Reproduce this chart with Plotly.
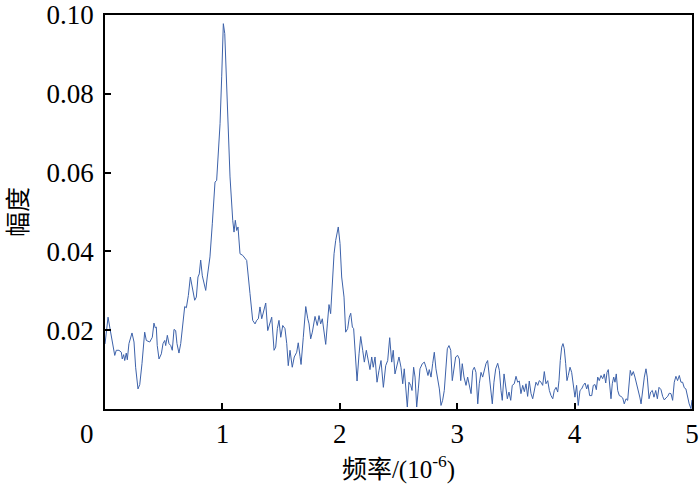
import plotly.graph_objects as go

# Frequency (10^-6) and amplitude
freq = [0.000, 0.026, 0.045, 0.068, 0.083, 0.096, 0.119, 0.139, 0.147, 0.159, 0.168, 0.181, 0.190, 0.204,
        0.230, 0.247, 0.261, 0.281, 0.296, 0.315, 0.338, 0.352, 0.381, 0.403, 0.417, 0.428, 0.437, 0.445,
        0.460, 0.480, 0.494, 0.509, 0.517, 0.531, 0.545, 0.560, 0.573, 0.588, 0.602, 0.613, 0.630, 0.645,
        0.664, 0.679, 0.693, 0.710, 0.727, 0.744, 0.764, 0.778, 0.792, 0.803, 0.815, 0.829, 0.858, 0.871,
        0.894, 0.914, 0.937, 0.951, 0.965, 0.980, 0.994, 1.008, 1.020, 1.028, 1.042, 1.065, 1.088, 1.099,
        1.110, 1.122, 1.133, 1.150, 1.173, 1.207, 1.235, 1.258, 1.278, 1.292, 1.306, 1.320, 1.335, 1.348,
        1.369, 1.386, 1.405, 1.420, 1.440, 1.454, 1.468, 1.482, 1.497, 1.514, 1.533, 1.548, 1.561, 1.576,
        1.595, 1.612, 1.633, 1.646, 1.661, 1.670, 1.689, 1.710, 1.727, 1.738, 1.752, 1.766, 1.789, 1.808,
        1.823, 1.837, 1.851, 1.865, 1.880, 1.894, 1.908, 1.922, 1.936, 1.951, 1.965, 1.987, 2.002, 2.016,
        2.036, 2.050, 2.067, 2.081, 2.093, 2.107, 2.118, 2.135, 2.147, 2.164, 2.178, 2.195, 2.209, 2.226,
        2.243, 2.257, 2.272, 2.285, 2.300, 2.317, 2.334, 2.351, 2.371, 2.391, 2.408, 2.425, 2.442, 2.455,
        2.470, 2.485, 2.504, 2.521, 2.536, 2.549, 2.564, 2.575, 2.589, 2.604, 2.615, 2.629, 2.641, 2.655,
        2.669, 2.683, 2.703, 2.720, 2.734, 2.751, 2.762, 2.777, 2.791, 2.805, 2.819, 2.834, 2.848, 2.862,
        2.876, 2.890, 2.905, 2.916, 2.930, 2.945, 2.958, 2.973, 2.987, 3.004, 3.018, 3.030, 3.043, 3.058,
        3.075, 3.089, 3.103, 3.118, 3.132, 3.146, 3.160, 3.175, 3.188, 3.203, 3.217, 3.231, 3.245, 3.259,
        3.273, 3.288, 3.299, 3.313, 3.328, 3.345, 3.359, 3.373, 3.384, 3.399, 3.413, 3.427, 3.441, 3.456,
        3.469, 3.486, 3.501, 3.515, 3.529, 3.543, 3.558, 3.572, 3.586, 3.600, 3.614, 3.629, 3.643, 3.657,
        3.671, 3.686, 3.699, 3.714, 3.728, 3.742, 3.756, 3.771, 3.785, 3.799, 3.814, 3.827, 3.842, 3.856,
        3.867, 3.878, 3.890, 3.901, 3.912, 3.924, 3.935, 3.946, 3.961, 3.975, 3.989, 4.003, 4.017, 4.031,
        4.046, 4.060, 4.074, 4.089, 4.103, 4.114, 4.128, 4.146, 4.159, 4.174, 4.185, 4.197, 4.210, 4.225,
        4.239, 4.253, 4.265, 4.276, 4.287, 4.299, 4.310, 4.321, 4.333, 4.344, 4.355, 4.367, 4.381, 4.395,
        4.410, 4.423, 4.438, 4.452, 4.463, 4.474, 4.486, 4.500, 4.514, 4.529, 4.543, 4.557, 4.566, 4.580,
        4.594, 4.608, 4.619, 4.634, 4.648, 4.662, 4.676, 4.691, 4.705, 4.719, 4.736, 4.750, 4.764, 4.778,
        4.793, 4.806, 4.821, 4.835, 4.849, 4.863, 4.877, 4.892, 4.906, 4.920, 4.934, 4.948, 4.962, 4.976,
        4.991, 5.000]

amplitude = [0.0165, 0.0233, 0.0200, 0.0154, 0.0136, 0.0149, 0.0149, 0.0144, 0.0127, 0.0138, 0.0123, 0.0142, 0.0125, 0.0166,
             0.0193, 0.0170, 0.0106, 0.0051, 0.0062, 0.0115, 0.0195, 0.0174, 0.0170, 0.0182, 0.0218, 0.0206, 0.0208, 0.0161,
             0.0127, 0.0140, 0.0166, 0.0174, 0.0161, 0.0187, 0.0166, 0.0161, 0.0149, 0.0202, 0.0199, 0.0166, 0.0142, 0.0166,
             0.0229, 0.0260, 0.0257, 0.0288, 0.0335, 0.0305, 0.0276, 0.0284, 0.0335, 0.0343, 0.0378, 0.0338, 0.0301, 0.0335,
             0.0386, 0.0470, 0.0576, 0.0580, 0.0657, 0.0724, 0.0843, 0.0978, 0.0953, 0.0894, 0.0758, 0.0589, 0.0479, 0.0449,
             0.0479, 0.0453, 0.0462, 0.0394, 0.0390, 0.0377, 0.0293, 0.0225, 0.0216, 0.0225, 0.0229, 0.0259, 0.0229, 0.0246,
             0.0269, 0.0199, 0.0216, 0.0233, 0.0149, 0.0157, 0.0204, 0.0225, 0.0182, 0.0212, 0.0204, 0.0166, 0.0110, 0.0149,
             0.0106, 0.0132, 0.0144, 0.0168, 0.0134, 0.0113, 0.0182, 0.0260, 0.0229, 0.0216, 0.0178, 0.0195, 0.0235, 0.0212,
             0.0237, 0.0216, 0.0229, 0.0191, 0.0164, 0.0216, 0.0265, 0.0242, 0.0318, 0.0394, 0.0428, 0.0462, 0.0420, 0.0335,
             0.0284, 0.0195, 0.0204, 0.0233, 0.0243, 0.0208, 0.0204, 0.0115, 0.0071, 0.0140, 0.0184, 0.0149, 0.0119, 0.0149,
             0.0123, 0.0100, 0.0132, 0.0106, 0.0132, 0.0068, 0.0098, 0.0123, 0.0055, 0.0110, 0.0123, 0.0181, 0.0119, 0.0149,
             0.0089, 0.0110, 0.0132, 0.0106, 0.0064, 0.0102, 0.0047, 0.0005, 0.0068, 0.0060, 0.0047, 0.0106, 0.0081, 0.0005,
             0.0051, 0.0102, 0.0115, 0.0119, 0.0106, 0.0085, 0.0100, 0.0081, 0.0115, 0.0144, 0.0102, 0.0072, 0.0051, 0.0009,
             0.0022, 0.0047, 0.0102, 0.0153, 0.0161, 0.0149, 0.0072, 0.0106, 0.0132, 0.0136, 0.0127, 0.0072, 0.0115, 0.0081,
             0.0060, 0.0081, 0.0055, 0.0039, 0.0098, 0.0106, 0.0093, 0.0013, 0.0064, 0.0093, 0.0081, 0.0102, 0.0115, 0.0123,
             0.0085, 0.0055, 0.0013, 0.0068, 0.0102, 0.0116, 0.0098, 0.0047, 0.0022, 0.0089, 0.0055, 0.0026, 0.0043, 0.0022,
             0.0060, 0.0064, 0.0083, 0.0068, 0.0071, 0.0039, 0.0060, 0.0044, 0.0064, 0.0032, 0.0071, 0.0039, 0.0026, 0.0047,
             0.0068, 0.0060, 0.0072, 0.0068, 0.0060, 0.0095, 0.0064, 0.0072, 0.0047, 0.0034, 0.0026, 0.0047, 0.0055, 0.0043,
             0.0072, 0.0123, 0.0157, 0.0166, 0.0153, 0.0115, 0.0072, 0.0085, 0.0106, 0.0093, 0.0055, 0.0030, 0.0060, 0.0009,
             0.0047, 0.0051, 0.0060, 0.0066, 0.0051, 0.0062, 0.0034, 0.0034, 0.0060, 0.0062, 0.0049, 0.0081, 0.0072, 0.0085,
             0.0077, 0.0089, 0.0066, 0.0093, 0.0100, 0.0064, 0.0026, 0.0064, 0.0081, 0.0068, 0.0089, 0.0047, 0.0034, 0.0032,
             0.0028, 0.0013, 0.0026, 0.0022, 0.0060, 0.0098, 0.0085, 0.0095, 0.0081, 0.0064, 0.0047, 0.0028, 0.0013, 0.0051,
             0.0081, 0.0102, 0.0081, 0.0026, 0.0043, 0.0047, 0.0030, 0.0047, 0.0026, 0.0055, 0.0049, 0.0032, 0.0023, 0.0028,
             0.0032, 0.0040, 0.0039, 0.0022, 0.0068, 0.0083, 0.0072, 0.0085, 0.0068, 0.0068, 0.0054, 0.0051, 0.0030, 0.0013,
             0.0001, 0.0023]

x_ticks = [1, 2, 3, 4, 5]
y_ticks = [0.02, 0.04, 0.06, 0.08, 0.10]
y_ticktext = ["0.02", "0.04", "0.06", "0.08", "0.10"]
origin_label = "0"
x_title = "频率/(10<sup>-6</sup>)"
y_title = "幅度"

FONT = "Liberation Serif, Times New Roman, Noto Sans CJK SC, serif"

fig = go.Figure()
fig.add_trace(go.Scatter(x=freq, y=amplitude, mode="lines",
                         line=dict(color="#3d62aa", width=1), showlegend=False, hoverinfo="skip"))

fig.update_layout(
    width=700, height=498,
    margin=dict(l=105, r=8, t=15, b=89, autoexpand=False),
    paper_bgcolor="white", plot_bgcolor="white",
    font=dict(family=FONT, size=27, color="black"),
)
fig.update_xaxes(range=[0, 5], tickvals=x_ticks, ticks="inside", ticklen=6, tickwidth=1.5,
                 tickcolor="black", showline=True, linecolor="black", linewidth=1.5, mirror=True,
                 showgrid=False, zeroline=False, automargin=False,
                 tickfont=dict(family=FONT, size=27),
                 title=dict(text=x_title, font=dict(family=FONT, size=25), standoff=12))
fig.update_yaxes(range=[0, 0.1], tickvals=y_ticks, ticktext=y_ticktext, ticks="inside", ticklen=6,
                 tickwidth=1.5, tickcolor="black", showline=True, linecolor="black", linewidth=1.5,
                 mirror=True, showgrid=False, zeroline=False, automargin=False,
                 ticklabelstandoff=4,
                 tickfont=dict(family=FONT, size=27),
                 title=dict(text=y_title, font=dict(family=FONT, size=25), standoff=12))
fig.add_annotation(x=-0.0307, y=0, xref="paper", yref="paper", text=origin_label, showarrow=False,
                   xanchor="center", yanchor="middle", yshift=-25, font=dict(family=FONT, size=27))

fig.write_html("out.html", config={"displayModeBar": False},
               post_script="document.body.style.margin='0';")
